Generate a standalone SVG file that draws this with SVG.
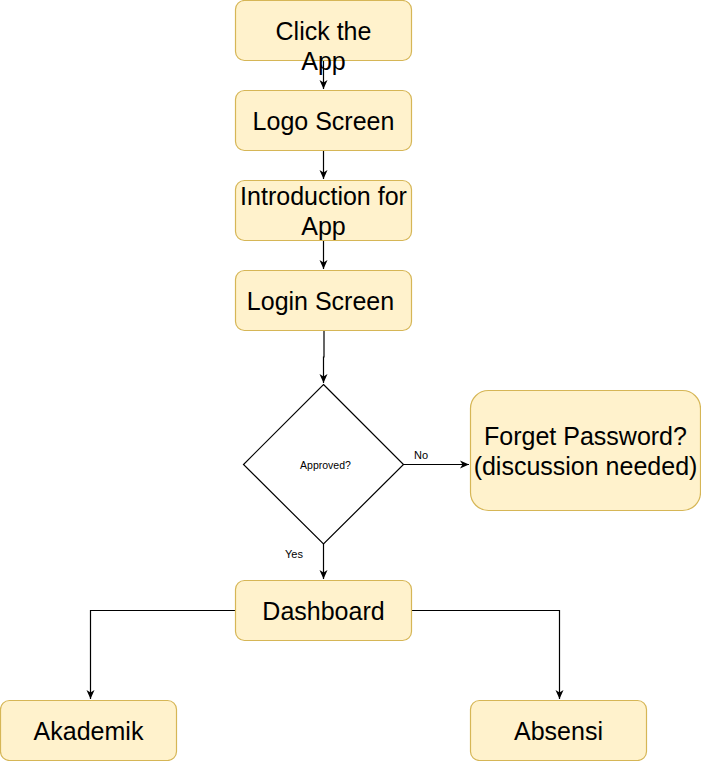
<svg xmlns="http://www.w3.org/2000/svg" width="701" height="761" viewBox="0 0 701 761">
<style>
.box{fill:#fff2cc;stroke:#d6b656;stroke-width:1.2}
.t{font-family:"Liberation Sans",Arial,sans-serif;font-size:25px;fill:#000;text-anchor:middle}
.s{font-family:"Liberation Sans",Arial,sans-serif;fill:#000}
.e{fill:none;stroke:#000;stroke-width:1.2}
</style>
<defs>
<marker id="arr" markerUnits="userSpaceOnUse" markerWidth="10" markerHeight="10" viewBox="0 0 10 10" refX="9" refY="5" orient="auto">
<path d="M0,1 L9,5 L0,9 L2.5,5 Z" fill="#000"/>
</marker>
</defs>
<rect width="701" height="761" fill="#fff"/>
<g id="connectors">
<path class="e" d="M323.5 60.5 V89" marker-end="url(#arr)"/>
<path class="e" d="M323.5 150.5 V179" marker-end="url(#arr)"/>
<path class="e" d="M323.5 240.5 V269" marker-end="url(#arr)"/>
<path class="e" d="M324 330.5 V357 H323.5 V383" marker-end="url(#arr)"/>
<path class="e" d="M403.5 464.5 H469" marker-end="url(#arr)"/>
<path class="e" d="M323.5 544 V579" marker-end="url(#arr)"/>
<path class="e" d="M235.5 610.5 H90.5 V699" marker-end="url(#arr)"/>
<path class="e" d="M411.5 610.5 H559.5 V699" marker-end="url(#arr)"/>
<text class="s" x="414" y="459" font-size="11">No</text>
<text class="s" x="285" y="558" font-size="11">Yes</text>
</g>
<g id="click">
<rect class="box" x="235.5" y="0.5" width="176" height="60" rx="9"/>
<text class="t" x="323.5" y="39.5">Click the</text>
<text class="t" x="323.5" y="69.5">App</text>
</g>
<g id="logo">
<rect class="box" x="235.5" y="90.5" width="176" height="60" rx="9"/>
<text class="t" x="323.5" y="129.5">Logo Screen</text>
</g>
<g id="intro">
<rect class="box" x="235.5" y="180.5" width="176" height="60" rx="9"/>
<text class="t" x="323.5" y="205">Introduction for</text>
<text class="t" x="323.5" y="235">App</text>
</g>
<g id="login">
<rect class="box" x="235.5" y="270.5" width="176" height="60" rx="9"/>
<text class="t" x="320.5" y="309.5">Login Screen</text>
</g>
<g id="approved">
<path d="M323.5 384.5 L403.5 464.5 L323.5 544 L243.5 464.5 Z" fill="#fff" stroke="#000" stroke-width="1.2"/>
<text class="s" x="325.5" y="468.5" font-size="10.5" text-anchor="middle">Approved?</text>
</g>
<g id="forget">
<rect class="box" x="470.5" y="390.5" width="230" height="120" rx="18"/>
<text class="t" x="585.5" y="445">Forget Password?</text>
<text class="t" x="585.5" y="474.5">(discussion needed)</text>
</g>
<g id="dashboard">
<rect class="box" x="235.5" y="580.5" width="176" height="60" rx="9"/>
<text class="t" x="323.5" y="619.5">Dashboard</text>
</g>
<g id="akademik">
<rect class="box" x="0.5" y="700.5" width="176" height="60" rx="9"/>
<text class="t" x="88.5" y="740">Akademik</text>
</g>
<g id="absensi">
<rect class="box" x="470.5" y="700.5" width="176" height="60" rx="9"/>
<text class="t" x="558.5" y="740">Absensi</text>
</g>
</svg>
